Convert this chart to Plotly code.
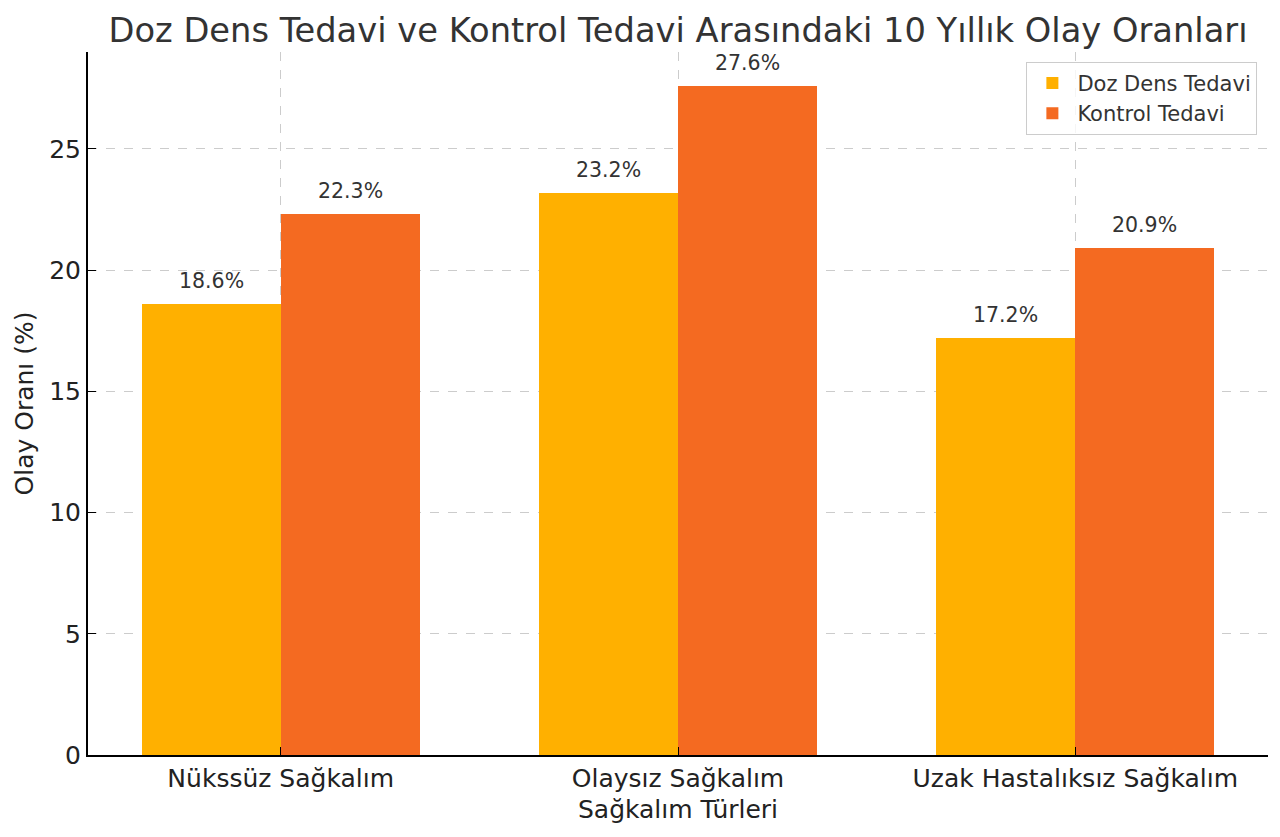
import plotly.graph_objects as go

categories = ["Nükssüz Sağkalım", "Olaysız Sağkalım", "Uzak Hastalıksız Sağkalım"]
doz_dens = [18.6, 23.2, 17.2]
kontrol = [22.3, 27.6, 20.9]
series_names = ["Doz Dens Tedavi", "Kontrol Tedavi"]
colors = ["#FFB000", "#F46A21"]

width = 0.35
pos = list(range(len(categories)))

fig = go.Figure()
for k, (name, vals) in enumerate(zip(series_names, [doz_dens, kontrol])):
    off = (k - 0.5) * width
    xs = [p + off for p in pos]
    fig.add_trace(go.Bar(x=xs, y=vals, width=width, name=name,
                         marker=dict(color=colors[k], line=dict(width=0))))
    for x, v in zip(xs, vals):
        fig.add_annotation(x=x, y=v, text=f"{v}%", showarrow=False,
                           yanchor="bottom", yshift=9,
                           font=dict(size=20.5, color="#333333"))

# page body has an 8px margin, so the figure is sized to fill the rest
fig.update_layout(
    width=1272, height=829,
    font=dict(family="DejaVu Sans", color="#222222"),
    title=dict(text="Doz Dens Tedavi ve Kontrol Tedavi Arasındaki 10 Yıllık Olay Oranları",
               x=0.5, xref="paper", xanchor="center", y=1 - 22 / 829, yanchor="middle",
               font=dict(size=33.7, color="#333333")),
    paper_bgcolor="white", plot_bgcolor="white",
    margin=dict(l=80, r=12, t=44, b=82, autoexpand=False),
    bargap=0,
    legend=dict(x=0.991, y=0.986, xanchor="right", yanchor="top",
                bordercolor="#cccccc", borderwidth=1, bgcolor="rgba(255,255,255,0.8)",
                itemwidth=40,
                font=dict(size=21, color="#333333")),
)
fig.update_xaxes(range=[-0.485, 2.485], tickvals=pos, ticktext=categories,
                 tickfont=dict(size=25), showline=True, linecolor="black", linewidth=2,
                 ticks="inside", ticklen=8, tickcolor="black", mirror=False,
                 showgrid=True, gridcolor="#cccccc", griddash="dash", gridwidth=1,
                 title=dict(text="Sağkalım Türleri", font=dict(size=25), standoff=8),
                 zeroline=False, automargin=False)
fig.update_yaxes(range=[0, 29.0], tickvals=[0, 5, 10, 15, 20, 25],
                 tickfont=dict(size=25), showline=True, linecolor="black", linewidth=2,
                 ticks="inside", ticklen=8, tickcolor="black",
                 showgrid=True, gridcolor="#cccccc", griddash="dash", gridwidth=1,
                 title=dict(text="Olay Oranı (%)", font=dict(size=25), standoff=8),
                 zeroline=False, automargin=True)

fig.write_html("out.html")
